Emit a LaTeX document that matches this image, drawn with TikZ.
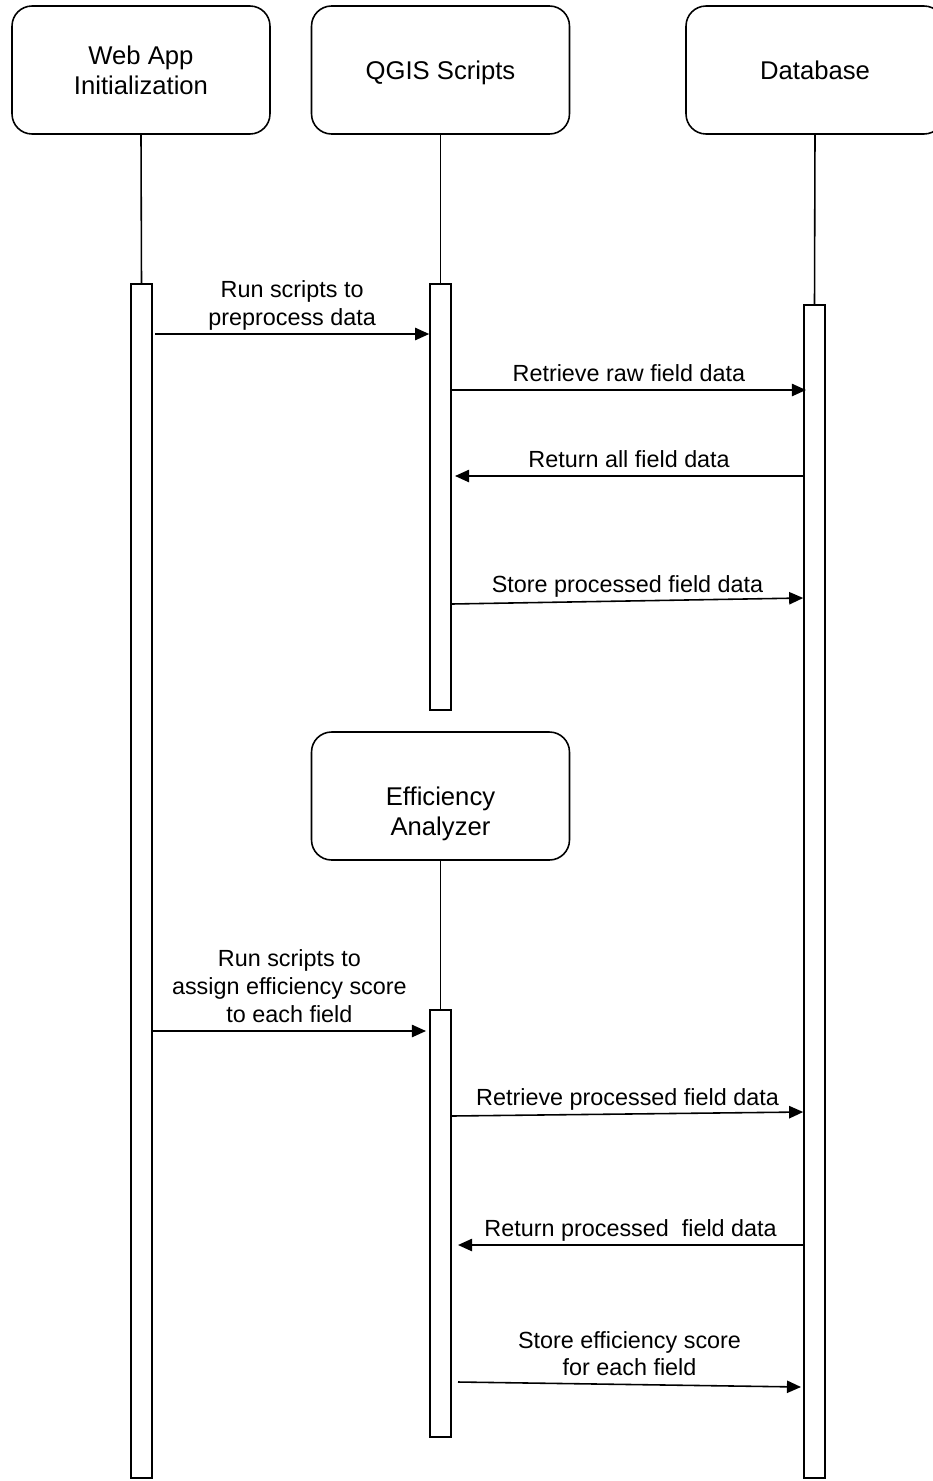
\documentclass[tikz,border=0pt]{standalone}
\usepackage{fontspec}
\setmainfont{Liberation Sans}
\usetikzlibrary{arrows.meta}

\tikzset{
	actor/.style={draw, line width=0.9pt, rounded corners=0.4cm, minimum width=5.16cm, minimum height=2.56cm, text depth=0pt, align=center, font=\fontsize{14.6}{17}\selectfont},
	actbar/.style={draw, line width=0.9pt, fill=white, minimum width=0.42cm, inner sep=0pt},
	life/.style={line width=0.9pt},
	msg/.style={line width=0.9pt, -{Triangle[length=8pt,width=7pt]}},
	msglabel/.style={above=4.4pt, inner sep=0pt, text depth=0pt, align=center, font=\fontsize{13.3}{15.9}\selectfont},
}

\begin{document}
\begin{tikzpicture}[x=0.02cm, y=-0.02cm]
\path[use as bounding box] (0,0) rectangle (933,1481);
\clip (0,0) rectangle (933,1481);

% participants
\node[actor] (webapp) at (141,70) {Web App\\Initialization};
\node[actor] (qgis) at (440.5,70) {QGIS Scripts};
\node[actor] (db) at (815,70) {Database};
\node[actor] (effan) at (440.5,796) {};
\node[align=center, font=\fontsize{14.6}{17}\selectfont] (efftext) at (440.5,814) {Efficiency\\Analyzer};

% activation bars
\node[actbar, minimum height=23.88cm] (webbar) at (141.5,881) {};
\node[actbar, minimum height=8.52cm] (qbar) at (440.5,497) {};
\node[actbar, minimum height=23.46cm] (dbbar) at (814.5,891.5) {};
\node[actbar, minimum height=8.54cm] (efbar) at (440.5,1223.5) {};

\draw[life] (webapp.south) -- (webbar.north);
\draw[life] (qgis.south) -- (qbar.north);
\draw[life] (db.south) -- (dbbar.north);
\draw[life] (effan.south) -- (efbar.north);

% messages
\draw[msg] (155,334) -- (qbar.west |- 0,334) node[msglabel, midway] (m1) {Run scripts to\\preprocess data};
\draw[msg] (qbar.east |- 0,390) -- (806,390) node[msglabel, midway] (m2) {Retrieve raw field data};
\draw[msg] (dbbar.west |- 0,476) -- (455,476) node[msglabel, midway] (m3) {Return all field data};
\draw[msg] (qbar.east |- 0,604) -- (dbbar.west |- 0,598) node[msglabel, midway] (m4) {Store processed field data};

\draw[msg] (webbar.east |- 0,1031) -- (426,1031) node[msglabel, midway] (m5) {Run scripts to\\assign efficiency score\\to each field};
\draw[msg] (efbar.east |- 0,1116) -- (dbbar.west |- 0,1112) node[msglabel, midway] (m6) {Retrieve processed field data};
\draw[msg] (dbbar.west |- 0,1245) -- (458,1245) node[msglabel, midway] (m7) {Return processed\ \ field data};
\draw[msg] (458,1382) -- (801,1387) node[msglabel, midway] (m8) {Store efficiency score\\for each field};

\end{tikzpicture}
\end{document}
